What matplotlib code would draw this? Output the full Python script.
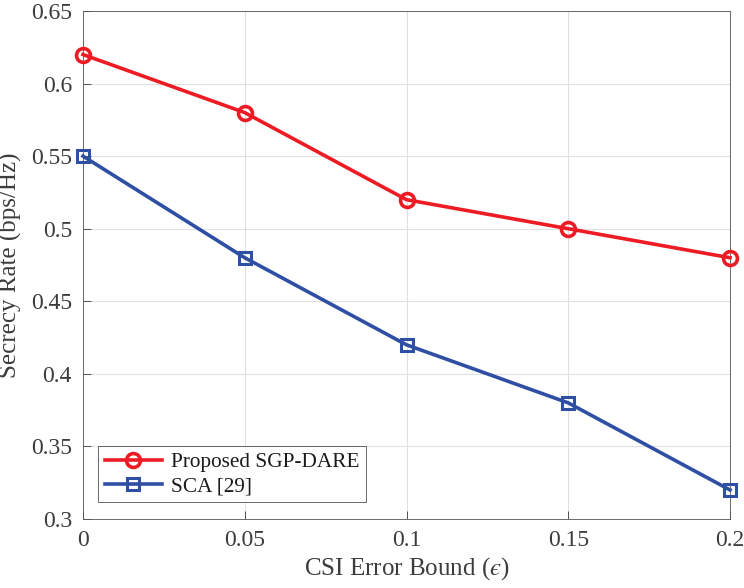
import matplotlib.pyplot as plt

plt.rcParams['font.family'] = ['Liberation Serif', 'DejaVu Serif']
plt.rcParams['mathtext.fontset'] = 'stix'

# данные
eps = [0, 0.05, 0.1, 0.15, 0.2]
proposed = [0.62, 0.58, 0.52, 0.50, 0.48]
sca = [0.55, 0.48, 0.42, 0.38, 0.32]

fig = plt.figure(figsize=(7.44, 5.88), dpi=100)
ax = fig.add_axes([83 / 744, 69 / 588, 647 / 744, 508 / 588])

ax.plot(eps, proposed, color='#ed1c24', lw=2.6, marker='o', ms=10,
        mfc='none', mew=2.6, label='Proposed SGP-DARE', zorder=4, clip_on=False)
ax.plot(eps, sca, color='#2e4fa3', lw=2.6, marker='s', ms=8.5,
        mfc='none', mew=2.2, label='SCA [29]', zorder=3, clip_on=False)

ax.set_xlim(0, 0.2)
ax.set_ylim(0.3, 0.65)
ax.set_xticks([0, 0.05, 0.1, 0.15, 0.2])
ax.set_xticklabels(['0', '0.05', '0.1', '0.15', '0.2'])
ax.set_yticks([0.3, 0.35, 0.4, 0.45, 0.5, 0.55, 0.6, 0.65])
ax.set_yticklabels(['0.3', '0.35', '0.4', '0.45', '0.5', '0.55', '0.6', '0.65'])

tc = '#3c3c3c'
ax.tick_params(direction='in', length=6, width=0.6, colors=tc, labelsize=17, pad=8)
for s in ax.spines.values():
    s.set_color('#555555')
    s.set_linewidth(0.6)
ax.grid(True, color='#e0e0e0', lw=0.8)
ax.set_axisbelow(True)

ax.set_xlabel('CSI Error Bound ($\u03f5$)', fontsize=18, color=tc, labelpad=3)
ax.set_ylabel('Secrecy Rate (bps/Hz)', fontsize=18, color=tc, labelpad=6)

leg = ax.legend(loc='lower left', bbox_to_anchor=(0.014, 0.02), fontsize=15.3,
                frameon=True, fancybox=False, edgecolor='#262626',
                handlelength=2.7, borderpad=0.3, labelspacing=0.2,
                handletextpad=0.4, borderaxespad=0.3)
leg.get_frame().set_linewidth(0.6)
for t in leg.get_texts():
    t.set_color('#1a1a1a')

plt.savefig('out.png', dpi=100)
